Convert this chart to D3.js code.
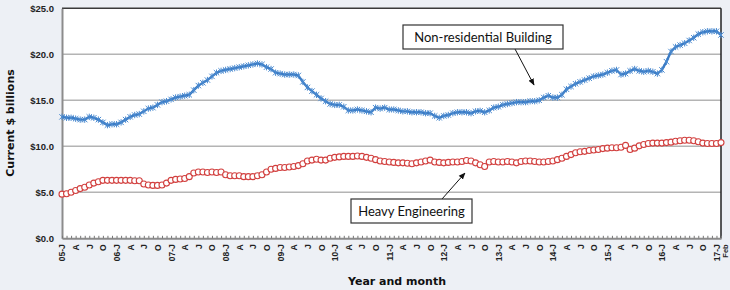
<!DOCTYPE html>
<html><head><meta charset="utf-8">
<script src="https://cdn.jsdelivr.net/npm/d3@7"></script>
<style>
body{margin:0;background:#edf0f5;}
svg{display:block;font-family:"DejaVu Sans",sans-serif;}
</style></head><body>
<svg id="c" width="730" height="290"></svg>
<script>
const nonResidential = [
13.2,13.1,13.1,13.0,12.9,12.9,13.2,13.1,12.9,12.6,12.3,12.4,
12.4,12.6,12.9,13.2,13.4,13.5,13.8,14.1,14.2,14.5,14.8,14.9,
15.1,15.3,15.4,15.5,15.6,16.1,16.6,16.9,17.2,17.6,18.0,18.2,
18.3,18.4,18.5,18.6,18.7,18.8,18.9,19.0,18.9,18.6,18.4,18.0,
17.9,17.8,17.8,17.8,17.7,17.0,16.4,16.0,15.6,15.2,14.9,14.6,
14.5,14.5,14.3,13.9,13.9,14.0,13.9,13.8,13.7,14.2,14.1,14.2,
14.0,14.0,13.9,13.8,13.8,13.7,13.7,13.7,13.6,13.6,13.3,13.1,
13.3,13.4,13.6,13.7,13.7,13.7,13.6,13.8,13.85,13.7,13.9,14.2,
14.3,14.5,14.6,14.7,14.8,14.8,14.8,14.9,14.9,15.0,15.3,15.5,
15.3,15.3,15.6,16.2,16.5,16.8,17.0,17.2,17.4,17.6,17.7,17.8,
18.0,18.2,18.3,17.8,17.9,18.2,18.4,18.2,18.1,18.2,18.1,17.9,
18.3,19.2,20.3,20.8,21.0,21.2,21.5,21.8,22.2,22.4,22.5,22.5,
22.5,22.1];
const heavyEngineering = [
4.8,4.85,5.0,5.2,5.4,5.55,5.8,6.0,6.15,6.3,6.3,6.3,
6.3,6.3,6.3,6.3,6.25,6.25,5.9,5.8,5.75,5.75,5.8,6.0,
6.3,6.4,6.45,6.5,6.7,7.1,7.2,7.2,7.15,7.2,7.15,7.2,
6.9,6.8,6.8,6.8,6.7,6.7,6.7,6.8,6.9,7.2,7.5,7.6,
7.7,7.7,7.75,7.8,7.9,8.1,8.4,8.5,8.6,8.5,8.5,8.7,
8.8,8.85,8.9,8.9,8.9,8.95,8.9,8.8,8.7,8.55,8.4,8.35,
8.3,8.25,8.2,8.2,8.15,8.1,8.2,8.3,8.4,8.5,8.3,8.25,
8.2,8.25,8.3,8.3,8.35,8.45,8.4,8.2,8.0,7.8,8.3,8.35,
8.3,8.3,8.35,8.3,8.2,8.35,8.4,8.4,8.35,8.3,8.3,8.35,
8.4,8.55,8.7,8.9,9.1,9.3,9.4,9.45,9.55,9.6,9.65,9.75,
9.8,9.85,9.85,9.9,10.1,9.65,9.8,10.05,10.2,10.3,10.35,10.35,
10.35,10.4,10.45,10.55,10.6,10.65,10.65,10.6,10.5,10.35,10.3,10.3,
10.3,10.4];
const yTicks = [0,5,10,15,20,25];
const quarterLetters = ["J","A","J","O"];
const lastLabel = "Feb";
const categories = d3.timeMonth.range(new Date(2005,0,1), new Date(2017,2,1));
const seriesNames = ["Non-residential Building","Heavy Engineering"];
const yTitle = "Current $ billions";
const xTitle = "Year and month";

const svg = d3.select("#c");
const L = 62, R = 721, T = 8.3, B = 238.3;
const x = d3.scalePoint().domain(categories.map((d,i)=>i)).range([L,R]);
const y = d3.scaleLinear().domain([0,25]).range([B,T]);

svg.append("rect").attr("x",L).attr("y",T).attr("width",R-L).attr("height",B-T).attr("fill","#fff");

// gridlines
svg.append("g").selectAll("line").data(yTicks.filter(d=>d>0 && d<25)).join("line")
  .attr("x1",L).attr("x2",R).attr("y1",d=>y(d)).attr("y2",d=>y(d))
  .attr("stroke","#b4b4b4").attr("stroke-width",1.5);

// top and right border
svg.append("line").attr("x1",L).attr("x2",R).attr("y1",T).attr("y2",T).attr("stroke","#3a3a3a").attr("stroke-width",1.5);
svg.append("line").attr("x1",R).attr("x2",R).attr("y1",T).attr("y2",B).attr("stroke","#222").attr("stroke-width",1.5);

// y axis
const ya = svg.append("g").attr("transform",`translate(${L},0)`)
  .call(d3.axisLeft(y).tickValues(yTicks).tickSize(0).tickPadding(8).tickFormat(d=>"$"+d.toFixed(1)));
ya.select(".domain").attr("stroke","#8c8c8c").attr("stroke-width",2);
ya.selectAll("text").attr("font-size",9.5).attr("font-weight","bold").attr("fill","#222");

// x axis
const labelFor = i => {
  if (i === categories.length-1) return lastLabel;
  const m = categories[i].getMonth();
  if (m % 3 !== 0) return "";
  const yy = String(categories[i].getFullYear()).slice(2);
  return m === 0 ? yy + "-J" : quarterLetters[m/3];
};
const xa = svg.append("g").attr("transform",`translate(0,${B})`)
  .call(d3.axisBottom(x).tickSize(-2.5).tickSizeOuter(0).tickFormat(labelFor));
xa.select(".domain").attr("stroke","#8c8c8c").attr("stroke-width",2);
xa.selectAll(".tick line").attr("stroke","#777");
xa.selectAll("text").attr("transform","rotate(-90)").attr("text-anchor","end")
  .attr("x",-6).attr("y",0).attr("dy","0.35em")
  .attr("font-size",8.5).attr("font-weight","bold").attr("fill","#222");
xa.selectAll(".tick").filter(d=>d===categories.length-1).select("text")
  .attr("font-size",7.5).attr("dy","0.85em");

// lines
const lineGen = d3.line().x((d,i)=>x(i)).y(d=>y(d));
svg.append("path").datum(heavyEngineering).attr("d",lineGen).attr("fill","none").attr("stroke","#d2403f").attr("stroke-width",1.2);
svg.append("g").selectAll("circle").data(heavyEngineering).join("circle")
  .attr("cx",(d,i)=>x(i)).attr("cy",d=>y(d)).attr("r",3)
  .attr("fill","#fff").attr("stroke","#d2403f").attr("stroke-width",1.1);

svg.append("path").datum(nonResidential).attr("d",lineGen).attr("fill","none").attr("stroke","#3b7bc4").attr("stroke-width",2.4);
svg.append("g").selectAll("path").data(nonResidential).join("path")
  .attr("transform",(d,i)=>`translate(${x(i)},${y(d)})`)
  .attr("d","M-2.7,-2.7L2.7,2.7M-2.7,2.7L2.7,-2.7M0,-3.2L0,3.2")
  .attr("stroke","#4a8ad0").attr("stroke-width",1).attr("fill","none");

// titles
svg.append("text").attr("transform","translate(14,123) rotate(-90)").attr("text-anchor","middle")
  .attr("font-size",11).attr("font-weight","bold").attr("fill","#111").text(yTitle);
svg.append("text").attr("x",397).attr("y",285).attr("text-anchor","middle")
  .attr("font-size",11).attr("font-weight","bold").attr("fill","#111").text(xTitle);

// annotations
svg.append("defs").append("marker").attr("id","ah").attr("viewBox","0 0 10 10").attr("refX",9).attr("refY",5)
  .attr("markerWidth",7).attr("markerHeight",7).attr("orient","auto")
  .append("path").attr("d","M0,1L10,5L0,9Z").attr("fill","#111");
function annot(text, bx, by, bw, bh, ax1, ay1, ax2, ay2){
  svg.append("line").attr("x1",ax1).attr("y1",ay1).attr("x2",ax2).attr("y2",ay2)
    .attr("stroke","#111").attr("stroke-width",1).attr("marker-end","url(#ah)");
  svg.append("rect").attr("x",bx).attr("y",by).attr("width",bw).attr("height",bh)
    .attr("fill","#fff").attr("stroke","#333").attr("stroke-width",1.2);
  svg.append("text").attr("x",bx+bw/2).attr("y",by+bh/2).attr("dy","0.36em").attr("text-anchor","middle")
    .attr("font-family","Lato, sans-serif").attr("font-size",13).attr("fill","#111").text(text);
}
annot(seriesNames[0], 403, 25, 160, 24, 515, 49, 534, 85);
annot(seriesNames[1], 351, 199, 121, 24, 442, 199, 465, 173);
</script></body></html>
